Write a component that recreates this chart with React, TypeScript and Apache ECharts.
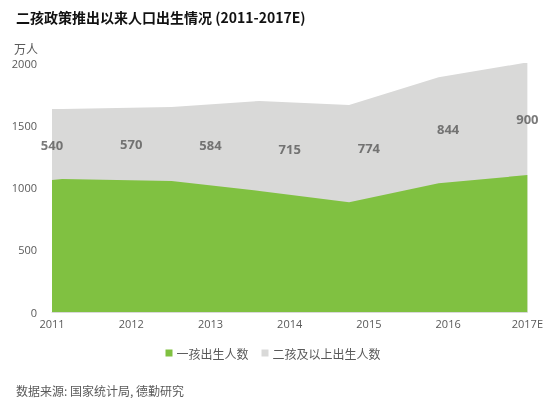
import React, { useEffect, useRef } from "react";
import * as echarts from "echarts";

const titleText = "二孩政策推出以来人口出生情况 (2011-2017E)";
const sourceText = "数据来源: 国家统计局, 德勤研究";
const unitText = "万人";
const seriesNames = ["一孩出生人数", "二孩及以上出生人数"];

// Area vertices (x in years)
const vertexYears = [2011, 2011.13, 2012.51, 2013.62, 2014.75, 2015.88, 2017];
const totalBirths = [1630, 1631, 1646, 1695, 1663, 1885, 2005];
const firstChild = [1060, 1068, 1052, 972, 881, 1034, 1100];

// Year ticks and second-child labels
const years = [2011, 2012, 2013, 2014, 2015, 2016, 2017];
const yearLabels = ["2011", "2012", "2013", "2014", "2015", "2016", "2017E"];
const secondChildLabels = [540, 570, 584, 715, 774, 844, 900];

const GREEN = "#80c141";
const GRAY = "#d9d9d8";
const TEXT = "#595959";
const FONT = "'Open Sans', 'Noto Sans CJK SC', sans-serif";

function interp(xs: number[], ys: number[], x: number): number {
  for (let i = 0; i < xs.length - 1; i++) {
    if (x >= xs[i] && x <= xs[i + 1]) {
      const t = (x - xs[i]) / (xs[i + 1] - xs[i]);
      return ys[i] + t * (ys[i + 1] - ys[i]);
    }
  }
  return ys[ys.length - 1];
}

export default function App() {
  const ref = useRef<HTMLDivElement>(null);
  useEffect(() => {
    if (!ref.current) return;
    const chart = echarts.init(ref.current, undefined, { renderer: "svg" });
    const labelPoints = years.map((y, i) => {
      const top = interp(vertexYears, totalBirths, y);
      const bottom = interp(vertexYears, firstChild, y);
      return { value: [y, (top + bottom) / 2], label: { formatter: String(secondChildLabels[i]) } };
    });
    chart.setOption({
      animation: false,
      textStyle: { fontFamily: FONT },
      title: [
        {
          text: titleText,
          left: 11,
          top: 5,
          textStyle: { fontSize: 14, fontWeight: "bold", color: "#111", fontFamily: "'Noto Sans CJK SC', sans-serif" },
        },
        {
          text: sourceText,
          left: 11,
          top: 379,
          textStyle: { fontSize: 12, fontWeight: "normal", color: TEXT, fontFamily: "'Noto Sans CJK SC', sans-serif" },
        },
      ],
      graphic: [
        {
          type: "text",
          left: 14,
          top: 42,
          style: { text: unitText, fill: TEXT, fontSize: 12, fontFamily: "'Noto Sans CJK SC', sans-serif" },
        },
      ],
      legend: {
        bottom: 34,
        left: "center",
        itemWidth: 7,
        itemHeight: 7,
        itemGap: 13,
        icon: "rect",
        textStyle: { fontSize: 12, color: TEXT, fontFamily: "'Noto Sans CJK SC', sans-serif", padding: [0, 0, 0, -1] },
        data: [
          { name: seriesNames[0], itemStyle: { color: GREEN } },
          { name: seriesNames[1], itemStyle: { color: GRAY } },
        ],
      },
      grid: { left: 52, right: 17, top: 63, bottom: 86 },
      xAxis: {
        type: "value",
        min: 2011,
        max: 2017,
        interval: 1,
        axisLine: { show: true, lineStyle: { color: "#d9d9d9" } },
        axisTick: { show: false },
        splitLine: { show: false },
        axisLabel: {
          color: TEXT,
          fontSize: 11,
          margin: 6,
          formatter: (v: number) => yearLabels[years.indexOf(v)] ?? "",
        },
      },
      yAxis: {
        type: "value",
        min: 0,
        max: 2000,
        interval: 500,
        axisLine: { show: false },
        axisTick: { show: false },
        splitLine: { show: false },
        axisLabel: { color: TEXT, fontSize: 11, margin: 15, formatter: (v: number) => String(v) },
      },
      series: [
        {
          name: seriesNames[1],
          type: "line",
          data: vertexYears.map((x, i) => [x, totalBirths[i]]),
          symbol: "none",
          lineStyle: { width: 0 },
          itemStyle: { color: GRAY },
          areaStyle: { color: GRAY, opacity: 1 },
          z: 1,
        },
        {
          name: seriesNames[0],
          type: "line",
          data: vertexYears.map((x, i) => [x, firstChild[i]]),
          symbol: "none",
          lineStyle: { width: 0 },
          itemStyle: { color: GREEN },
          areaStyle: { color: GREEN, opacity: 1 },
          z: 2,
        },
        {
          name: "labels",
          type: "scatter",
          data: labelPoints,
          symbolSize: 0,
          silent: true,
          label: {
            show: true,
            position: "inside",
            color: TEXT,
            fontSize: 13,
            fontWeight: "bold",
          },
          z: 3,
        },
      ],
    });
    return () => chart.dispose();
  }, []);
  return <div ref={ref} style={{ position: "fixed", left: 0, top: 0, width: 546, height: 398 }} />;
}
